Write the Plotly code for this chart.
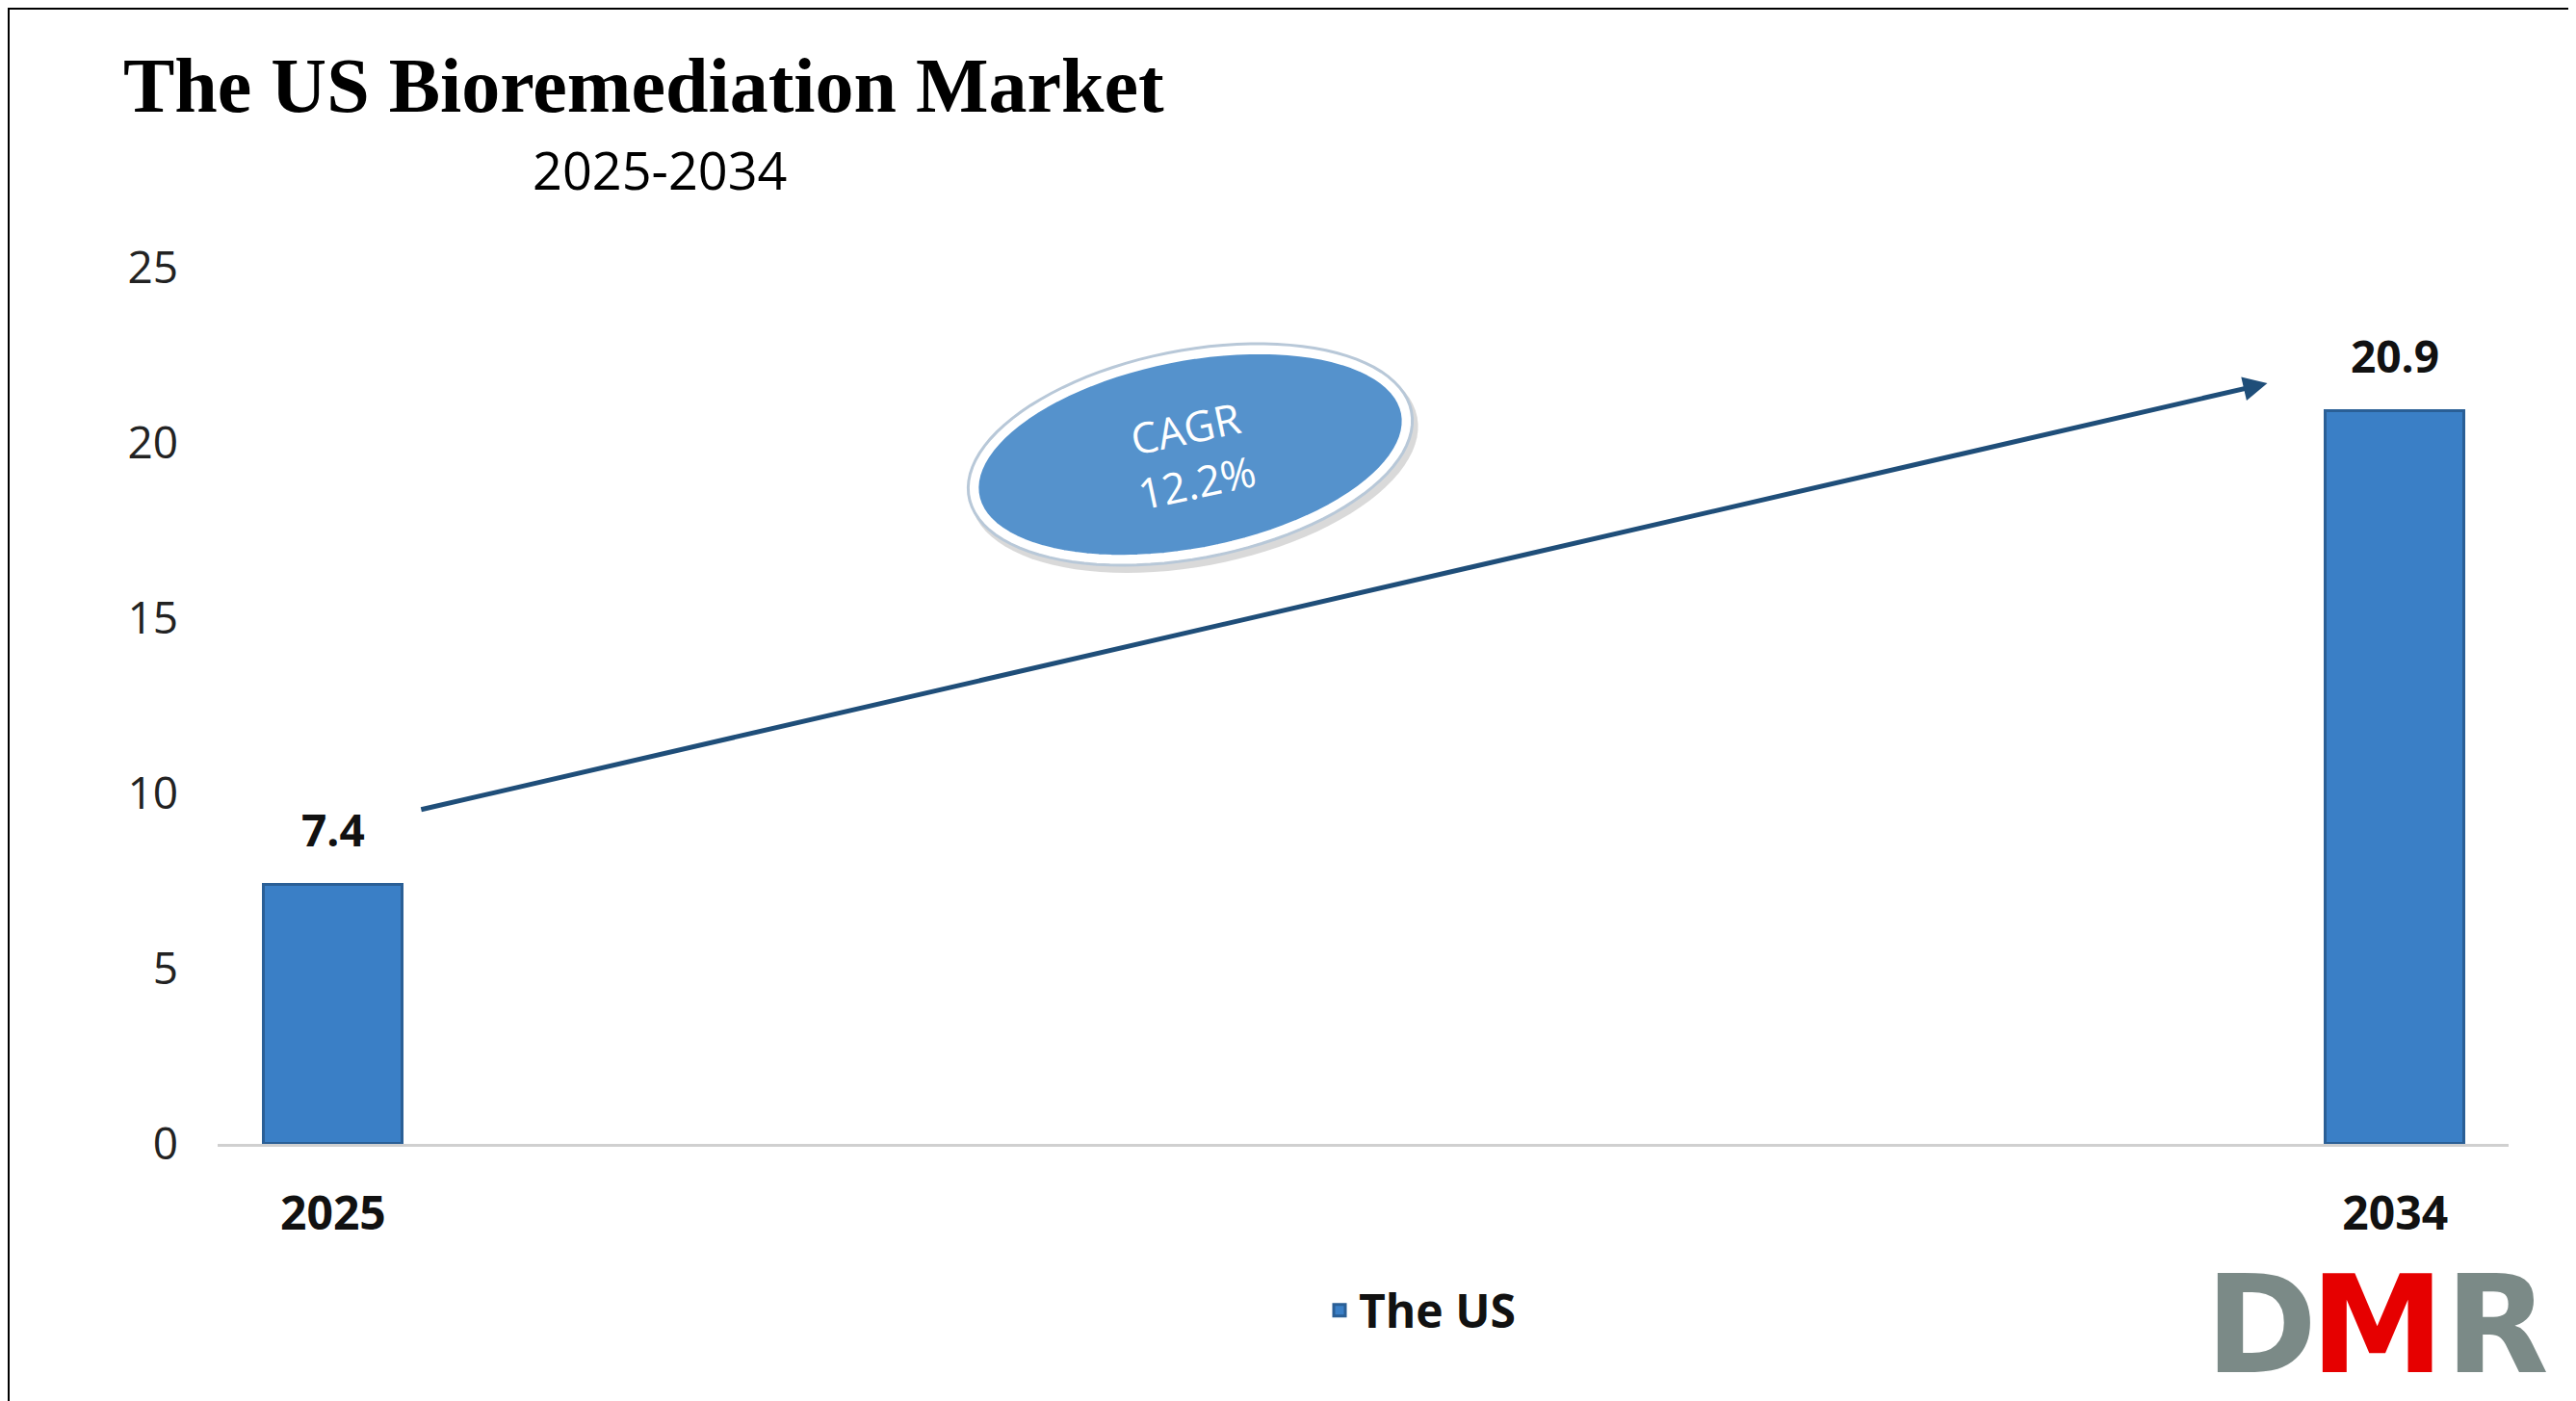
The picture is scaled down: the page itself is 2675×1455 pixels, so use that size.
import plotly.graph_objects as go
import numpy as np

categories = ["2025", "2034"]
values = [7.4, 20.9]
labels = ["7.4", "20.9"]
cagr_text = "CAGR<br>12.2%"
yticks = [0, 5, 10, 15, 20, 25]

W, H = 2675, 1455
L, R, T, B = 218, 78, 270, 275
PW, PH = W - L - R, H - T - B

def px2paper(px, py):
    return (px - L) / PW, 1 - (py - T) / PH

fig = go.Figure()
fig.add_trace(go.Bar(
    x=[0, 1], y=values, width=0.067, name="<b>The US</b>",
    marker=dict(color="#3a7fc6", line=dict(color="#2a5f96", width=3)),
    showlegend=True,
))
for i, (v, s) in enumerate(zip(values, labels)):
    fig.add_annotation(x=i, y=v, xref="x", yref="y", text=f"<b>{s}</b>", showarrow=False,
                       xanchor="center", yanchor="bottom", yshift=25,
                       font=dict(family="Open Sans", size=46, color="#111"))

cx, cy, rx, ry, ang = 1228, 464, 228, 102, np.deg2rad(-11)
t = np.linspace(0, 2*np.pi, 100)
def ell(rx, ry, dx=0, dy=0):
    px = cx + dx + rx*np.cos(t)*np.cos(ang) - ry*np.sin(t)*np.sin(ang)
    py = cy + dy + rx*np.cos(t)*np.sin(ang) + ry*np.sin(t)*np.cos(ang)
    pts = [px2paper(a, b) for a, b in zip(px, py)]
    return "M " + " L ".join(f"{a:.5f},{b:.5f}" for a, b in pts) + " Z"

fig.add_shape(type="path", path=ell(rx+8, ry+8, 4, 6), xref="paper", yref="paper",
              fillcolor="rgba(0,0,0,0.15)", line=dict(width=0))
fig.add_shape(type="path", path=ell(rx, ry), xref="paper", yref="paper",
              fillcolor="#5592cc", line=dict(color="white", width=10))
fig.add_shape(type="path", path=ell(rx+6, ry+6), xref="paper", yref="paper",
              fillcolor="rgba(0,0,0,0)", line=dict(color="#b8c8d8", width=3))

ex, ey = px2paper(cx, cy)
fig.add_annotation(x=ex, y=ey, xref="paper", yref="paper", xanchor="center", yanchor="middle",
                   text=cagr_text, showarrow=False, textangle=-12,
                   font=dict(family="Open Sans", size=44, color="white"))

fig.add_annotation(x=0.938, y=21.7, ax=0.042, ay=9.53, xref="x", yref="y", axref="x", ayref="y",
                   showarrow=True, arrowhead=2, arrowsize=1, arrowwidth=5, arrowcolor="#1f4e79", text="")

lx, ly = px2paper(1467, 1353)
fig.update_layout(
    width=W, height=H, margin=dict(l=L, r=R, t=T, b=B),
    plot_bgcolor="white", paper_bgcolor="white",
    title=dict(text="<b>The US Bioremediation Market</b>", x=120/W, xanchor="left", y=1-80/H, yanchor="middle",
               font=dict(family="Liberation Serif", size=80, color="black")),
    xaxis=dict(range=[-0.056, 1.055], tickvals=[0, 1], ticktext=[f"<b>{c}</b>" for c in categories],
               tickfont=dict(family="Open Sans", size=48, color="#111"), showgrid=False,
               showline=True, linecolor="#d0d0d0", linewidth=3, ticks="", ticklabelstandoff=28),
    yaxis=dict(range=[0, 25], tickvals=yticks, showgrid=False, zeroline=False,
               tickfont=dict(family="Open Sans", size=46, color="#222"), ticklabelstandoff=40),
    legend=dict(orientation="h", x=lx, xanchor="center", y=ly, yanchor="middle",
                font=dict(family="Open Sans", size=48, color="#111"), itemwidth=30),
    bargap=0,
)
sx, sy = px2paper(677, 168)
fig.add_annotation(x=sx, y=sy, xref="paper", yref="paper", text="2025-2034", showarrow=False,
                   font=dict(family="Open Sans", size=54, color="black"), xanchor="center", yanchor="middle")

for ch, col, px in [("D", "#7b8a87", 2340), ("M", "#e60000", 2460), ("R", "#7b8a87", 2585)]:
    ax_, ay_ = px2paper(px, 1368)
    fig.add_annotation(x=ax_, y=ay_, xref="paper", yref="paper", text=f"<b>{ch}</b>",
                       xanchor="center", yanchor="middle", showarrow=False,
                       font=dict(family="DejaVu Sans", size=140, color=col))

fig.add_shape(type="rect", x0=-L/PW, x1=1+R/PW, y0=-B/PH, y1=1+T/PH,
              xref="paper", yref="paper", line=dict(color="black", width=4))

fig.write_html("out.html")
